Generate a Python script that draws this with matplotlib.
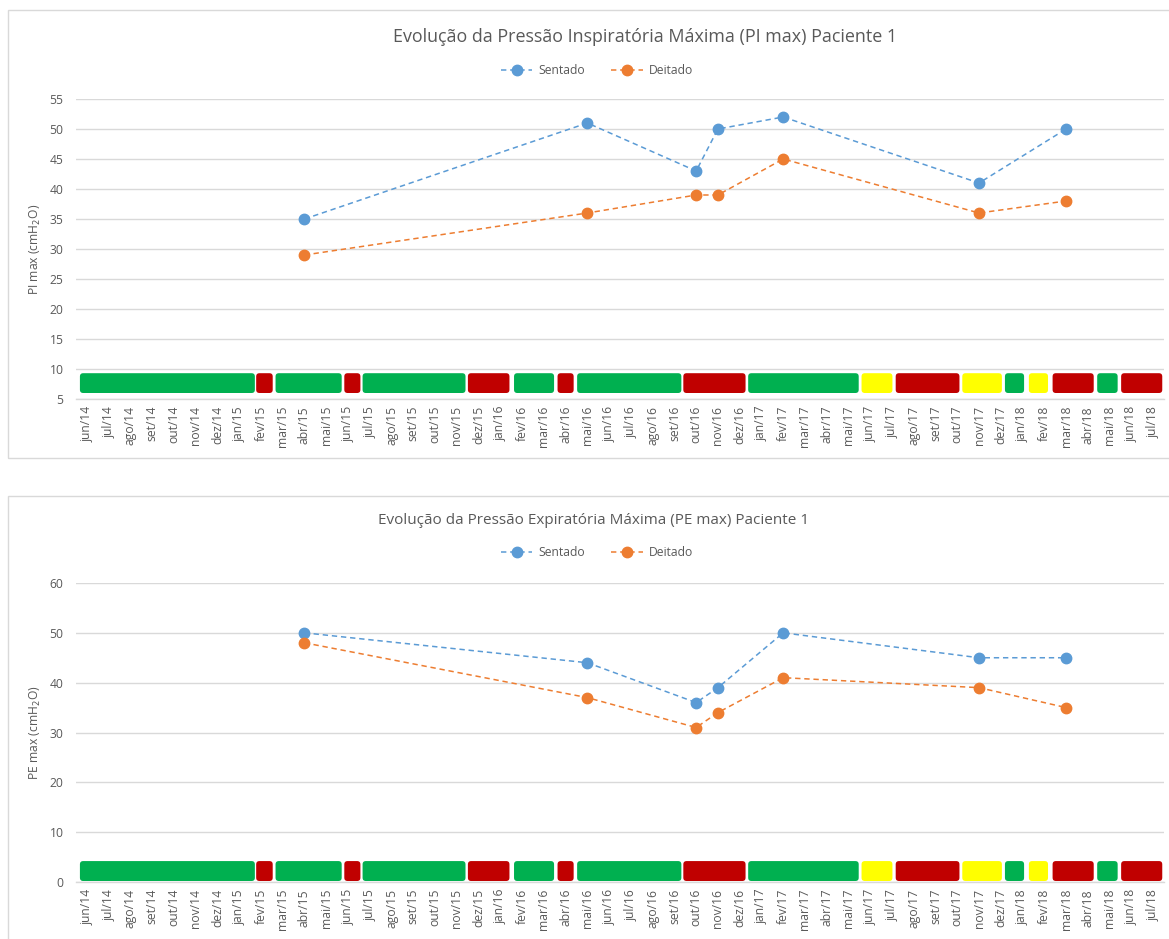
import matplotlib
matplotlib.use('Agg')
import matplotlib.pyplot as plt
from matplotlib.patches import FancyBboxPatch, Rectangle

plt.rcParams['font.family'] = ['Open Sans', 'DejaVu Sans']

# month axis: jun/14 .. jul/18
month_names = ['jan', 'fev', 'mar', 'abr', 'mai', 'jun', 'jul', 'ago', 'set', 'out', 'nov', 'dez']
months = [f'{month_names[(5 + i) % 12]}/{14 + (5 + i) // 12}' for i in range(50)]

# evaluation dates
dates = ['abr/15', 'mai/16', 'out/16', 'nov/16', 'fev/17', 'nov/17', 'mar/18']

pi_sentado = [35, 51, 43, 50, 52, 41, 50]
pi_deitado = [29, 36, 39, 39, 45, 36, 38]

pe_sentado = [50, 44, 36, 39, 50, 45, 45]
pe_deitado = [48, 37, 31, 34, 41, 39, 35]

# clinical status periods, in months since jun/14
seg_start = [-0.35, 7.75, 8.64, 11.8, 12.64, 17.48, 19.6, 21.6, 22.5, 27.38,
             30.36, 35.57, 37.14, 40.2, 42.16, 43.26, 44.35, 46.4, 47.5]
seg_end = [7.75, 8.57, 11.74, 12.6, 17.43, 19.45, 21.5, 22.4, 27.35, 30.3,
           35.5, 37.05, 40.13, 42.08, 43.1, 44.2, 46.3, 47.4, 49.45]
seg_status = ['g', 'r', 'g', 'r', 'g', 'r', 'g', 'r', 'g', 'r',
              'g', 'y', 'r', 'y', 'g', 'y', 'r', 'g', 'r']

status_color = {'g': '#00B050', 'r': '#C00000', 'y': '#FFFF00'}
blue = '#5B9BD5'
orange = '#ED7D31'
grey_txt = '#595959'
grid_col = '#D9D9D9'

W, H = 1169, 939
fig = plt.figure(figsize=(W / 100, H / 100), dpi=100)


def box(l, t, r, b):
    return [l / W, 1 - b / H, (r - l) / W, (b - t) / H]


def panel(t, b):
    fig.patches.append(Rectangle((8 / W, 1 - b / H), (1175 - 8) / W, (b - t) / H,
                                 transform=fig.transFigure, fill=False,
                                 edgecolor=grid_col, lw=1))


def draw_chart(ax, sentado, deitado, ylim, step, band, title, title_size,
               title_xy, leg_xy, ylabel):
    x = [months.index(d) for d in dates]
    ax.set_xlim(-0.5, len(months) - 0.5)
    ax.set_ylim(*ylim)
    ax.set_yticks(range(ylim[0], ylim[1] + 1, step))
    ax.grid(axis='y', color=grid_col, lw=1)
    ax.set_axisbelow(True)
    for s in ['top', 'right', 'left']:
        ax.spines[s].set_visible(False)
    ax.spines['bottom'].set_color(grid_col)
    ax.spines['bottom'].set_linewidth(1)
    ax.set_xticks(range(len(months)))
    ax.set_xticklabels(months, rotation=90, fontsize=8.7, color=grey_txt)
    ax.tick_params(axis='both', length=0, labelsize=8.7, labelcolor=grey_txt)
    ax.tick_params(axis='y', pad=9)
    ax.tick_params(axis='x', pad=5)

    # status band, rounded boxes
    bbox = ax.get_position()
    px_x = bbox.width * W / len(months)
    px_y = bbox.height * H / (ylim[1] - ylim[0])
    aspect = px_x / px_y
    for s0, s1, st in zip(seg_start, seg_end, seg_status):
        p = FancyBboxPatch((s0 + 0.03, band[0]), s1 - s0 - 0.06, band[1] - band[0],
                           boxstyle='round,pad=0,rounding_size=0.15',
                           mutation_aspect=aspect,
                           facecolor=status_color[st], edgecolor='none',
                           clip_on=False, zorder=2)
        ax.add_patch(p)

    ax.plot(x, sentado, ls='--', color=blue, lw=1.1, marker='o', ms=7.5,
            dashes=(3.5, 2.5), label='Sentado', zorder=3)
    ax.plot(x, deitado, ls='--', color=orange, lw=1.1, marker='o', ms=7.5,
            dashes=(3.5, 2.5), label='Deitado', zorder=3)

    fig.text(title_xy[0] / W, 1 - title_xy[1] / H, title, ha='center', va='center',
             fontsize=title_size, color=grey_txt)
    ax.legend(loc='center', bbox_to_anchor=(leg_xy[0] / W, 1 - leg_xy[1] / H),
              bbox_transform=fig.transFigure, ncol=2, frameon=False,
              fontsize=8.7, labelcolor=grey_txt, handlelength=2.6,
              columnspacing=2.2, handletextpad=0.5)
    cy = (bbox.y0 + bbox.height / 2)
    fig.text(35 / W, cy, ylabel, rotation=90, ha='center', va='center',
             fontsize=8.7, color=grey_txt)


panel(10, 458)
panel(496, 945)

ax1 = fig.add_axes(box(76, 99, 1164, 399))
draw_chart(ax1, pi_sentado, pi_deitado, (5, 55), 5, (6.0, 9.3),
           'Evolução da Pressão Inspiratória Máxima (PI max) Paciente 1', 12.9,
           (645, 37), (597, 71), 'PI max (cmH$_2$O)')

ax2 = fig.add_axes(box(76, 583, 1164, 882))
draw_chart(ax2, pe_sentado, pe_deitado, (0, 60), 10, (0.2, 4.2),
           'Evolução da Pressão Expiratória Máxima (PE max) Paciente 1', 11.0,
           (594, 520), (597, 553), 'PE max (cmH$_2$O)')

fig.savefig('out.png', dpi=100)
